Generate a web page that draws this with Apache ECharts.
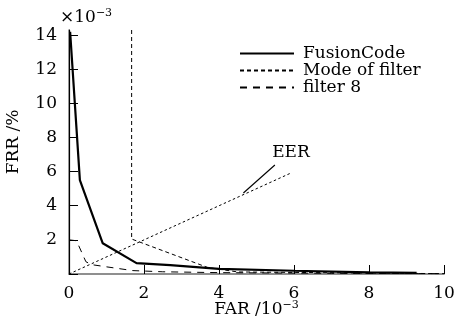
<!DOCTYPE html>
<html>
<head>
<meta charset="utf-8">
<script src="https://cdn.jsdelivr.net/npm/echarts@6/dist/echarts.min.js"></script>
<style>
  html, body { margin: 0; padding: 0; background: #fff; }
  #chart { width: 454px; height: 322px; }
</style>
</head>
<body>
<div id="chart"></div>
<script>
// values (FAR and FRR both in units of 10^-3)
const fusionCode = [[0.03, 14.2], [0.29, 5.5], [0.9, 1.8], [1.8, 0.64], [2.7, 0.52], [4, 0.3], [6, 0.19], [8, 0.1], [9.27, 0.07]];
const modeOfFilter = [[1.67, 14.3], [1.67, 2.05], [3.7, 0.38], [4.5, 0.12], [10, 0.02]];
const filter8 = [[0, 2.0], [0.2, 1.95], [0.45, 0.72], [0.6, 0.55], [1.0, 0.42], [1.7, 0.2], [2.5, 0.13], [4, 0.08], [7, 0.04], [10, 0.02]];
const eerLine = [[0, 0], [5.92, 5.92]];
const eerArrow = [[5.49, 6.39], [4.65, 4.75]];
const eerLabelAt = [5.92, 7.1];
const xTicks = [0, 2, 4, 6, 8, 10];
const yTicks = [2, 4, 6, 8, 10, 12, 14];

const font = 'DejaVu Serif';
const supStyle = { s: { fontSize: 11, verticalAlign: 'top', padding: [0, 0, 8, 0], fontFamily: font } };
const chart = echarts.init(document.getElementById('chart'));

chart.setOption({
  animation: false,
  backgroundColor: '#fff',
  grid: { left: 69, right: 10, top: 30, bottom: 48, containLabel: false, outerBoundsMode: 'none' },
  legend: {
    data: ['FusionCode', 'Mode of filter', 'filter 8'],
    orient: 'vertical',
    left: 239,
    top: 45,
    padding: 0,
    itemWidth: 54,
    itemHeight: 10,
    itemGap: 0,
    itemStyle: { opacity: 0 },
    textStyle: { fontFamily: font, fontSize: 17, color: '#000', lineHeight: 16.5, padding: [0, 0, 0, 4] }
  },
  graphic: [
    {
      type: 'text', left: 60, top: 8,
      style: { text: '×10{s|−3}', font: '17px "DejaVu Serif"', fill: '#000', rich: supStyle }
    },
    {
      type: 'text', x: 14, y: 142, rotation: Math.PI / 2,
      style: { text: 'FRR /%', font: '17px "DejaVu Serif"', fill: '#000', align: 'center', verticalAlign: 'middle' }
    }
  ],
  xAxis: [
    {
      type: 'value', min: 0, max: 10, interval: 2,
      name: 'FAR /10{s|−3}', nameLocation: 'middle', nameGap: 26, nameMoveOverlap: false,
      nameTextStyle: { fontFamily: font, fontSize: 17, color: '#000', rich: supStyle },
      axisLine: { lineStyle: { color: '#888', width: 1.5 } },
      axisTick: { inside: true, length: 9, lineStyle: { color: '#000', width: 1 } },
      axisLabel: {
        fontFamily: font, fontSize: 17, color: '#000', margin: 11,
        formatter: v => (xTicks.includes(v) ? String(v) : '')
      },
      splitLine: { show: false }
    },
    {
      type: 'value', position: 'top', min: 0, max: 10,
      axisLine: { show: true, lineStyle: { color: '#888', width: 1.5 } },
      axisTick: { show: false }, axisLabel: { show: false }, splitLine: { show: false }
    }
  ],
  yAxis: [
    {
      type: 'value', min: 0, max: 14.3, interval: 2,
      axisLine: { show: true, lineStyle: { color: '#888', width: 1.5 } },
      axisTick: { inside: true, length: 9, lineStyle: { color: '#000', width: 1 } },
      axisLabel: {
        fontFamily: font, fontSize: 17, color: '#000', margin: 12,
        showMaxLabel: false,
        formatter: v => (yTicks.includes(v) ? String(v) : '')
      },
      splitLine: { show: false }
    },
    {
      type: 'value', position: 'right', min: 0, max: 14.3,
      axisLine: { show: true, lineStyle: { color: '#000', width: 1.2 } },
      axisTick: { show: false }, axisLabel: { show: false }, splitLine: { show: false }
    }
  ],
  series: [
    {
      name: 'FusionCode', type: 'line', data: fusionCode, symbol: 'none',
      lineStyle: { color: '#000', width: 2.2 }, itemStyle: { color: '#000' }, z: 5
    },
    {
      name: 'Mode of filter', type: 'line', data: modeOfFilter, symbol: 'none',
      lineStyle: { color: '#000', width: 1, type: [4, 3] }, itemStyle: { color: '#000' }
    },
    {
      name: 'filter 8', type: 'line', data: filter8, symbol: 'none',
      lineStyle: { color: '#000', width: 1, type: [7, 6] }, itemStyle: { color: '#000' }
    },
    {
      name: 'EER', type: 'line', data: eerLine, symbol: 'none',
      lineStyle: { color: '#000', width: 1, type: [2.5, 2.5] },
      markLine: {
        silent: true, symbol: ['none', 'arrow'], symbolSize: [0, 11],
        lineStyle: { color: '#000', width: 1.2, type: 'solid' },
        label: { show: false },
        data: [[{ coord: eerArrow[0] }, { coord: eerArrow[1] }]]
      },
      markPoint: {
        silent: true, symbol: 'circle', symbolSize: 0,
        label: { show: true, position: 'inside', formatter: 'EER', fontFamily: font, fontSize: 17, color: '#000' },
        data: [{ coord: eerLabelAt }]
      }
    }
  ]
});
</script>
</body>
</html>
